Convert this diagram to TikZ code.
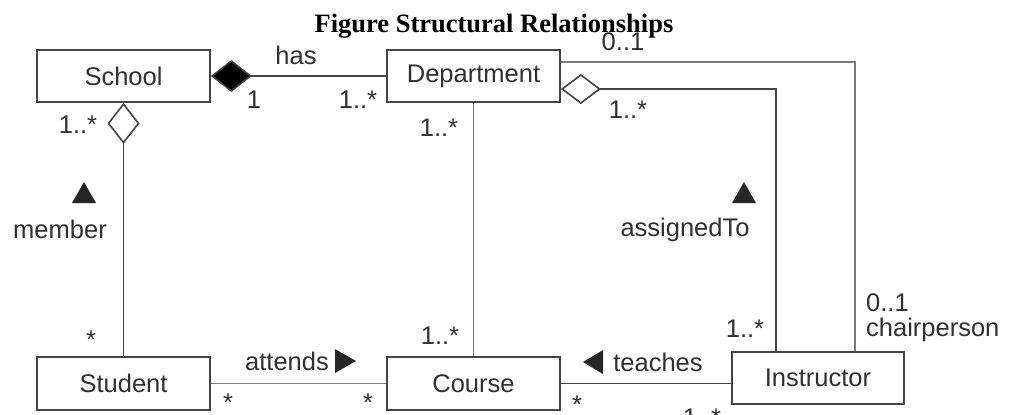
\documentclass[tikz,border=0pt]{standalone}
\usepackage{fontspec}
\setmainfont{Liberation Sans}
\newfontfamily\titlefont{Liberation Serif}
\usetikzlibrary{arrows.meta}
\definecolor{ink}{HTML}{303030}
\definecolor{edge}{HTML}{444444}
\definecolor{softedge}{HTML}{7A7A7A}
\tikzset{
  cls/.style={draw=edge, line width=1.7pt, minimum width=173pt, minimum height=52pt,
              inner sep=0pt, text=ink, font=\fontsize{25.5}{28}\selectfont},
  lbl/.style={text=ink, inner sep=0pt, font=\fontsize{25.5}{28}\selectfont},
  assoc/.style={draw=edge, line width=1.6pt},
  softassoc/.style={draw=softedge, line width=1.6pt},
  dirmark/.style={fill=black!85, draw=none}
}
\begin{document}
\begin{tikzpicture}[x=1pt, y=-1pt]
\useasboundingbox (0,0) rectangle (1010,415);

% title
\node[anchor=base, inner sep=0pt, font=\titlefont\bfseries\fontsize{26.5}{30}\selectfont] (title) at (494,32) {Figure Structural Relationships};

% classes
\node[cls] (school) at (123.5,76) {School};
\node[cls] (dept) at (473.5,76) {Department};
\node[cls, minimum height=53pt] (student) at (123.5,383.5) {Student};
\node[cls, minimum height=53pt] (course) at (473.5,383.5) {Course};
\node[cls, minimum width=172pt] (instr) at (818,378) {Instructor};

% School has Department (composition)
\draw[assoc, -{Diamond[length=41pt, width=32pt, fill=black]}] (dept.west) -- (school.east);
\node[lbl] (has) at (296,55) {has};
\node[lbl] (m1) at (254,100) {1};
\node[lbl] (m2) at (358,100) {1..*};

% Student member of School (aggregation)
\draw[assoc, -{Diamond[open, length=41pt, width=32pt, fill=white]}] (student.north) -- (school.south);
\node[lbl] (m3) at (78,125) {1..*};
\node[lbl] (m4) at (91,340) {*};
\node[lbl] (member) at (60,229) {member};
\fill[dirmark] (72,203) -- (96,203) -- (84,182) -- cycle;

% Department -- Course
\draw[softassoc] (dept.south) -- (course.north);
\node[lbl] (m5) at (439,128) {1..*};
\node[lbl] (m6) at (440,336) {1..*};

% Instructor assignedTo Department (aggregation)
\draw[assoc, -{Diamond[open, length=40pt, width=30pt, fill=white]}]
  ([xshift=-42pt]instr.north) |- ([yshift=-13pt]dept.east);
\node[lbl] (m7) at (628,110) {1..*};
\node[lbl] (m8) at (745,329) {1..*};
\node[lbl] (assigned) at (685,230) {assignedTo};
\fill[dirmark] (732,203) -- (756,203) -- (744,182) -- cycle;

% Instructor chairperson of Department
\draw[softassoc] ([xshift=37pt]instr.north) |- ([yshift=14pt]dept.east);
\node[lbl] (m9) at (623,42) {0..1};
\node[lbl, anchor=west] (m10) at (866,303) {0..1};
\node[lbl, anchor=west] (chair) at (866,330) {chairperson};

% Student attends Course
\draw[softassoc] (student.east) -- (course.west);
\node[lbl] (attends) at (287,361) {attends};
\fill[dirmark] (335,349) -- (335,373) -- (356,361) -- cycle;
\node[lbl] (m11) at (228,403) {*};
\node[lbl] (m12) at (368,403) {*};

% Instructor teaches Course
\draw[assoc] (course.east) -- (course.east -| instr.west);
\fill[dirmark] (603,350) -- (603,374) -- (583,362) -- cycle;
\node[lbl] (teaches) at (658,362) {teaches};
\node[lbl] (m13) at (577,405) {*};
\node[lbl] (m14) at (702,418) {1..*};
\end{tikzpicture}
\end{document}
